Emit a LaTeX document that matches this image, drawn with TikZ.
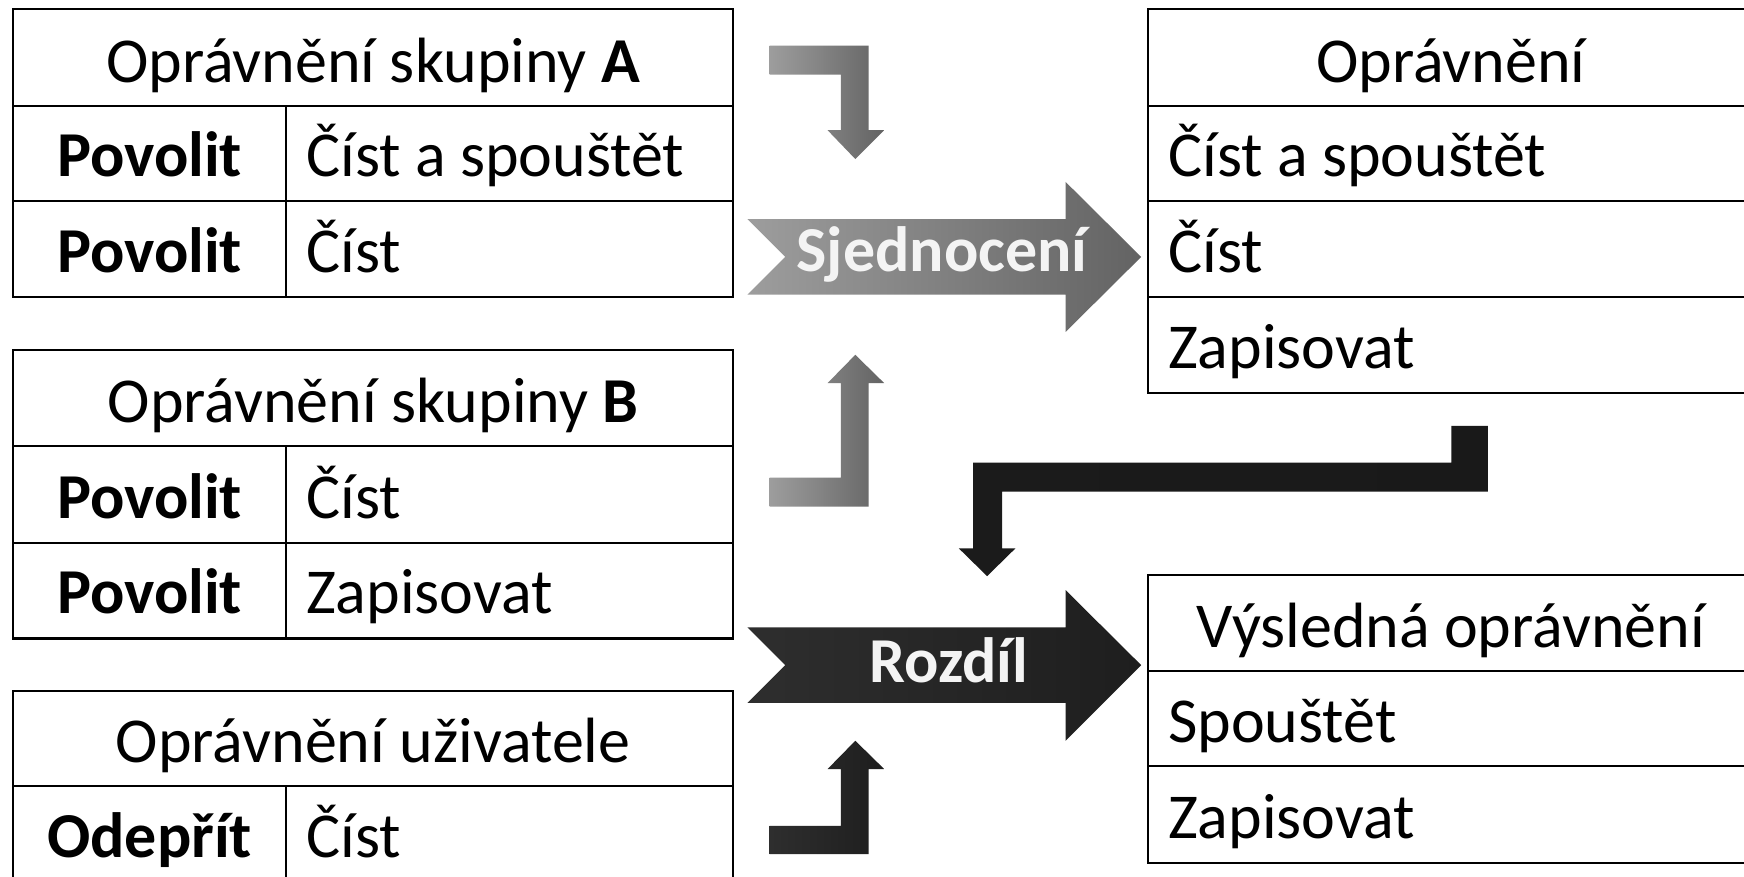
\documentclass[tikz,border=0pt]{standalone}
\usepackage{fontspec}
\setmainfont{Carlito}
\definecolor{glight}{HTML}{9D9D9D}
\definecolor{gdark}{HTML}{636363}
\definecolor{blight}{HTML}{2E2E2E}
\definecolor{bdark}{HTML}{1E1E1E}
\definecolor{txtwhite}{HTML}{F4F4F4}
\begin{document}
\begin{tikzpicture}[x=0.5561pt,y=-0.5561pt,
  grid/.style={line width=1.1pt,draw=black},
  txt/.style={font=\fontsize{32}{38}\selectfont, anchor=base, inner sep=0pt},
  lefttxt/.style={txt, anchor=base west},
  boldtxt/.style={txt, font=\fontsize{32}{38}\selectfont\bfseries},
  arrtxt/.style={boldtxt, text=txtwhite},
  grayarrow/.style={left color=glight, right color=gdark, draw=none},
  blackarrow/.style={left color=blight, right color=bdark, draw=none},
  bentblack/.style={left color=bdark!90!black, right color=blight!110, draw=none}
]
\clip (0,0) rectangle (1568,788);
\fill[white] (0,0) rectangle (1568,788);

% ---------- Table A ----------
\draw[grid] (12,8) rectangle (659,267);
\draw[grid] (12,95) -- (659,95) (12,181) -- (659,181) (257,95) -- (257,267);
\node[txt] (aH) at (335.5,74) {Oprávnění skupiny \textbf{A}};
\node[boldtxt] (a1l) at (134.5,159) {Povolit};
\node[lefttxt] (a1r) at (275,159) {Číst a spouštět};
\node[boldtxt] (a2l) at (134.5,245) {Povolit};
\node[lefttxt] (a2r) at (275,245) {Číst};

% ---------- Table B ----------
\draw[grid] (12,315) rectangle (659,574);
\draw[grid] (12,401) -- (659,401) (12,488) -- (659,488) (257,401) -- (257,574);
\node[txt] (bH) at (335.5,380) {Oprávnění skupiny \textbf{B}};
\node[boldtxt] (b1l) at (134.5,466) {Povolit};
\node[lefttxt] (b1r) at (275,466) {Číst};
\node[boldtxt] (b2l) at (134.5,552) {Povolit};
\node[lefttxt] (b2r) at (275,552) {Zapisovat};

% ---------- Table user ----------
\draw[grid] (12,830) -- (12,621) -- (659,621) -- (659,830);
\draw[grid] (12,707) -- (659,707) (257,707) -- (257,830);
\node[txt] (uH) at (335.5,686) {Oprávnění uživatele};
\node[boldtxt] (u1l) at (134.5,771) {Odepřít};
\node[lefttxt] (u1r) at (275,771) {Číst};

% ---------- Right table 1 ----------
\draw[grid] (1600,8) -- (1032,8) -- (1032,353) -- (1600,353);
\draw[grid] (1032,95) -- (1600,95) (1032,181) -- (1600,181) (1032,267) -- (1600,267);
\node[txt] (rH) at (1304.5,74) {Oprávnění};
\node[lefttxt] (r1) at (1050,159) {Číst a spouštět};
\node[lefttxt] (r2) at (1050,245) {Číst};
\node[lefttxt] (r3) at (1050,331) {Zapisovat};

% ---------- Right table 2 ----------
\draw[grid] (1600,517) -- (1032,517) -- (1032,776) -- (1600,776);
\draw[grid] (1032,603) -- (1600,603) (1032,689) -- (1600,689);
\node[txt] (sH) at (1304.5,582) {Výsledná oprávnění};
\node[lefttxt] (s1) at (1050,668) {Spouštět};
\node[lefttxt] (s2) at (1050,754) {Zapisovat};

% ---------- Gray arrows ----------
\path[grayarrow] (692,41) -- (781,41) -- (781,117) -- (795,117) -- (769,143)
  -- (744,117) -- (756,117) -- (756,67) -- (692,67) -- cycle;
\path[grayarrow] (692,455.5) -- (781,455.5) -- (781,344.5) -- (795,344.5) -- (769,319)
  -- (744,344.5) -- (756,344.5) -- (756,429.5) -- (692,429.5) -- cycle;
\path[grayarrow] (672,197) -- (958,197) -- (958,163.5) -- (1026,231) -- (958,298.5)
  -- (958,265) -- (672,265) -- (706,231) -- cycle;
\node[arrtxt] (union) at (847,244.5) {Sjednocení};

% ---------- Black arrows ----------
\path[bentblack] (1338,383) -- (1338,442) -- (901,442) -- (901,493) -- (913,493)
  -- (887.5,518) -- (862,493) -- (875,493) -- (875,416) -- (1305,416) -- (1305,383) -- cycle;
\path[blackarrow] (672,564) -- (958,564) -- (958,530.5) -- (1026,598) -- (958,666)
  -- (958,632) -- (672,632) -- (706,598) -- cycle;
\node[arrtxt] (diff) at (853,614) {Rozdíl};
\path[blackarrow] (692,768) -- (781,768) -- (781,691.5) -- (795,691.5) -- (769,666)
  -- (744,691.5) -- (756,691.5) -- (756,742.5) -- (692,742.5) -- cycle;
\end{tikzpicture}
\end{document}
